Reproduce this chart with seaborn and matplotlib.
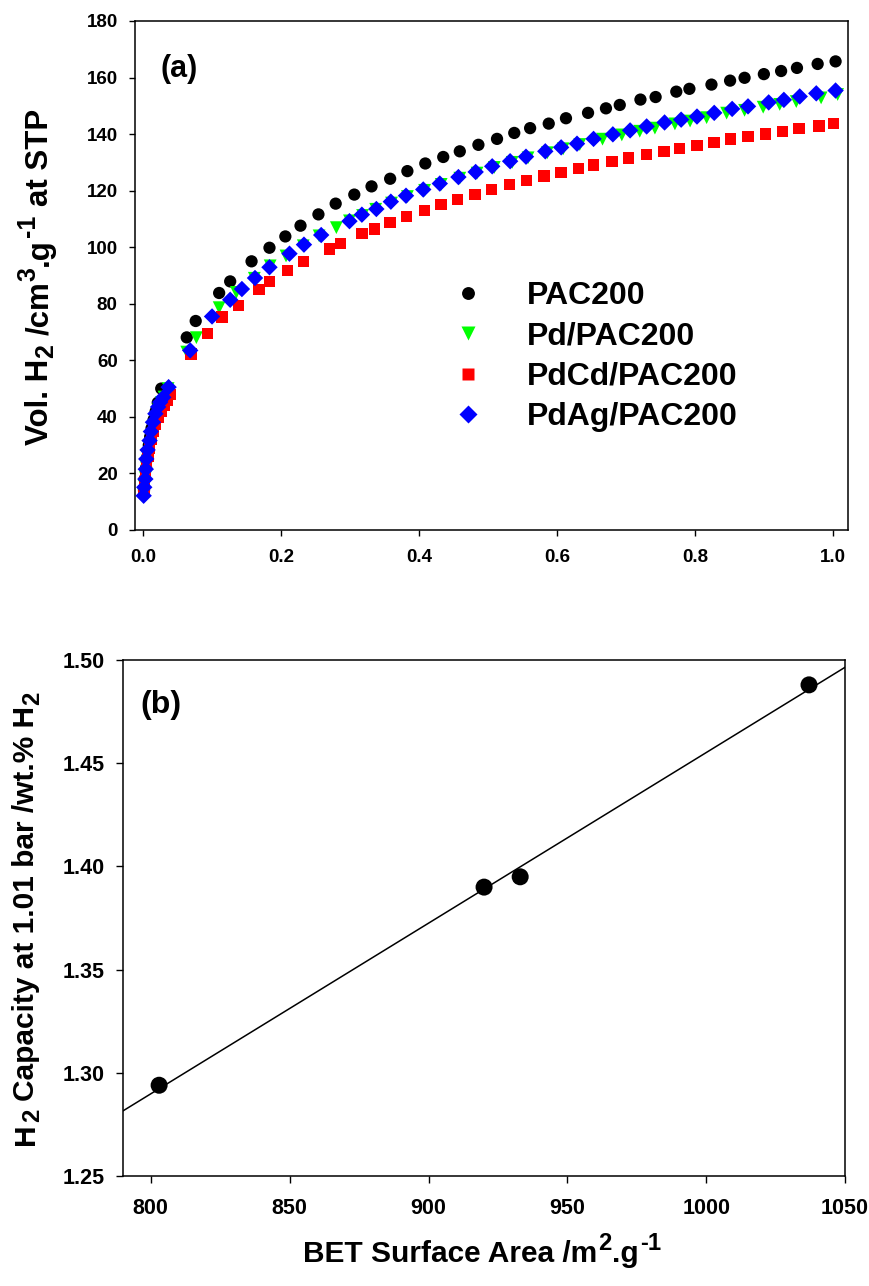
import numpy as np
import pandas as pd
import matplotlib
matplotlib.use("Agg")
import matplotlib.pyplot as plt
import seaborn as sns
from matplotlib.lines import Line2D
from matplotlib.transforms import IdentityTransform

# ---------------- Panel (a): H2 isotherms ----------------
pac_p = [0.001, 0.002, 0.004, 0.006, 0.008, 0.010, 0.012, 0.015, 0.018, 0.021, 0.026,
         0.063, 0.076, 0.110, 0.126, 0.157, 0.183, 0.206, 0.228, 0.254, 0.279, 0.306,
         0.331, 0.358, 0.383, 0.409, 0.435, 0.459, 0.486, 0.513, 0.538, 0.561, 0.588,
         0.613, 0.645, 0.671, 0.691, 0.721, 0.743, 0.773, 0.792, 0.824, 0.851, 0.872,
         0.900, 0.925, 0.948, 0.978, 1.004]
pac_v = [14, 18, 22, 26, 30, 33, 36, 39, 42, 45, 50,
         68.1, 73.9, 83.8, 87.9, 95.0, 99.8, 103.8, 107.6, 111.6, 115.4, 118.6,
         121.5, 124.2, 126.9, 129.6, 131.9, 133.9, 136.2, 138.3, 140.4, 142.1, 143.7,
         145.6, 147.5, 149.1, 150.3, 152.2, 153.1, 155.0, 156.0, 157.5, 158.9, 159.9,
         161.2, 162.3, 163.4, 164.8, 165.7]

pd_p = [0.0006, 0.0015, 0.003, 0.0045, 0.0065, 0.009, 0.0115, 0.0145, 0.018, 0.022,
        0.026, 0.030, 0.036, 0.063, 0.077, 0.110, 0.135, 0.161, 0.184, 0.207, 0.232,
        0.255, 0.280, 0.299, 0.318, 0.337, 0.360, 0.383, 0.408, 0.432, 0.459, 0.484,
        0.509, 0.535, 0.558, 0.586, 0.609, 0.633, 0.666, 0.694, 0.720, 0.742, 0.771,
        0.793, 0.817, 0.846, 0.872, 0.899, 0.923, 0.947, 0.983, 1.007]
pd_v = [12.5, 15.5, 18.5, 22, 25.5, 29, 32.5, 36, 39.5, 42.5,
        45, 47, 50, 62.9, 68.0, 78.6, 84.0, 89.0, 93.4, 96.9, 100.5,
        104.0, 106.9, 109.3, 111.2, 113.4, 115.6, 117.9, 120.1, 122.2, 124.4, 126.2,
        128.2, 130.0, 131.6, 133.4, 134.8, 136.3, 138.2, 139.7, 141.0, 142.1, 143.6,
        144.6, 145.8, 147.4, 148.4, 149.5, 150.5, 151.5, 152.8, 154.0]

pdcd_p = [0.001, 0.002, 0.003, 0.005, 0.007, 0.009, 0.012, 0.015, 0.018, 0.022, 0.026,
          0.030, 0.035, 0.039, 0.069, 0.093, 0.114, 0.138, 0.168, 0.183, 0.209, 0.232,
          0.270, 0.286, 0.317, 0.335, 0.358, 0.382, 0.408, 0.432, 0.456, 0.481, 0.505,
          0.531, 0.556, 0.581, 0.606, 0.631, 0.653, 0.680, 0.704, 0.730, 0.755, 0.778,
          0.803, 0.828, 0.852, 0.877, 0.902, 0.927, 0.951, 0.980, 1.001]
pdcd_v = [14, 17, 20, 23, 26, 29, 32, 35, 37.5, 40, 42,
          44, 46, 48, 62.3, 69.4, 75.3, 79.4, 85.0, 87.8, 91.8, 94.9,
          99.3, 101.3, 104.8, 106.5, 108.8, 110.9, 112.9, 115.0, 116.8, 118.7, 120.4,
          122.1, 123.5, 125.1, 126.5, 127.9, 129.1, 130.3, 131.5, 132.7, 133.8, 134.9,
          136.0, 137.1, 138.2, 139.2, 140.0, 141.0, 141.9, 142.9, 143.7]

pdag_p = [0.0005, 0.0014, 0.003, 0.0036, 0.0043, 0.0062, 0.0091, 0.011, 0.014, 0.0175,
          0.0215, 0.0245, 0.029, 0.0367, 0.068, 0.0997, 0.126, 0.143, 0.162, 0.183,
          0.212, 0.233, 0.258, 0.299, 0.317, 0.338, 0.359, 0.381, 0.406, 0.430, 0.457,
          0.482, 0.506, 0.532, 0.555, 0.583, 0.606, 0.629, 0.653, 0.681, 0.706, 0.730,
          0.756, 0.780, 0.803, 0.828, 0.854, 0.877, 0.907, 0.929, 0.952, 0.976, 1.004]
pdag_v = [12.1, 15.1, 18.0, 21.5, 25.1, 28.3, 31.6, 34.8, 38.1, 41.1,
          43.5, 45.2, 46.9, 50.5, 63.5, 75.5, 81.4, 85.2, 89.1, 92.9,
          97.7, 100.9, 104.3, 109.2, 111.5, 113.5, 116.1, 118.2, 120.4, 122.5, 124.8,
          126.6, 128.6, 130.4, 132.0, 133.9, 135.3, 136.6, 138.3, 139.9, 141.3, 142.7,
          144.1, 145.1, 146.2, 147.5, 148.9, 149.8, 151.2, 152.1, 153.3, 154.4, 155.4]

series_names = ["PAC200", "Pd/PAC200", "PdCd/PAC200", "PdAg/PAC200"]
series_p = [pac_p, pd_p, pdcd_p, pdag_p]
series_v = [pac_v, pd_v, pdcd_v, pdag_v]

# ---------------- Panel (b): capacity vs BET ----------------
bet_area = [803, 920, 933, 1037]
h2_capacity = [1.294, 1.390, 1.395, 1.488]

# ---------------- style ----------------
sns.set_style("ticks")
plt.rcParams["font.family"] = ["Liberation Sans", "DejaVu Sans"]
plt.rcParams["font.weight"] = "bold"
plt.rcParams["text.color"] = "black"
plt.rcParams["axes.labelcolor"] = "black"
plt.rcParams["axes.edgecolor"] = "black"
plt.rcParams["axes.linewidth"] = 1.1
plt.rcParams["xtick.color"] = "black"
plt.rcParams["ytick.color"] = "black"
plt.rcParams["xtick.labelcolor"] = "black"
plt.rcParams["ytick.labelcolor"] = "black"

PX = 100.0 / 72.0


def rich_label(fig, pieces, base, center, size, vertical, sscale=0.8):
    """Draw a label made of normal / superscript / subscript pieces, in pixels."""
    r = fig.canvas.get_renderer()
    items = []
    total = 0.0
    for text, kind, gap in pieces:
        fs = size if kind == "n" else size * sscale
        t = fig.text(0, 0, text, fontsize=fs, fontweight="bold", color="black",
                     rotation=90 if vertical else 0, rotation_mode="anchor",
                     ha="left", va="baseline", transform=IdentityTransform())
        bb = t.get_window_extent(r)
        ln = bb.height if vertical else bb.width
        g = gap * size * PX
        items.append((t, kind, g, ln))
        total += g + ln
    pos = center - total / 2.0
    for t, kind, g, ln in items:
        pos += g
        off = {"n": 0.0, "sup": 0.40 * size * PX, "sub": -0.17 * size * PX}[kind]
        if vertical:
            t.set_position((base - off, pos))
        else:
            t.set_position((pos, base + off))
        pos += ln


colors = {"PAC200": "#000000", "Pd/PAC200": "#00ff00",
          "PdCd/PAC200": "#ff0000", "PdAg/PAC200": "#0000ff"}
markers = {"PAC200": "o", "Pd/PAC200": "v", "PdCd/PAC200": "s", "PdAg/PAC200": "D"}
sizes = {"PAC200": 78, "Pd/PAC200": 85, "PdCd/PAC200": 68, "PdAg/PAC200": 70}

fig = plt.figure(figsize=(8.7, 12.86), dpi=100)
ax1 = fig.add_axes([0.1552, 0.5879, 0.8195, 0.3958])
ax2 = fig.add_axes([0.1414, 0.0855, 0.8300, 0.4012])

frames = []
for name, p, v in zip(series_names, series_p, series_v):
    frames.append(pd.DataFrame({"P": p, "V": v, "Sample": name}))
df = pd.concat(frames, ignore_index=True)

for name in series_names:
    sub = df[df["Sample"] == name]
    sns.scatterplot(data=sub, x="P", y="V", color=colors[name], marker=markers[name],
                    s=sizes[name], edgecolor="none", linewidth=0, alpha=1, ax=ax1,
                    legend=False, zorder=3)

ax1.set_xlim(-0.012, 1.022)
ax1.set_ylim(0, 180)
ax1.set_xticks([0.0, 0.2, 0.4, 0.6, 0.8, 1.0])
ax1.set_xticklabels(["0.0", "0.2", "0.4", "0.6", "0.8", "1.0"])
ax1.set_yticks(np.arange(0, 181, 20))
ax1.tick_params(axis="both", direction="out", length=4.5, width=1.0, labelsize=13.5)
ax1.tick_params(axis="x", pad=9)
ax1.tick_params(axis="y", pad=8)
ax1.set_xlabel("")
ax1.set_ylabel("")
ax1.text(0.036, 0.906, "(a)", transform=ax1.transAxes, fontsize=22,
         fontweight="bold", ha="left", va="center")

handles = [Line2D([0], [0], linestyle="none", marker=markers[n], color=colors[n],
                  markeredgecolor="none", markersize=np.sqrt(sizes[n]) * 1.05)
           for n in series_names]
leg = ax1.legend(handles, series_names, loc="upper left", bbox_to_anchor=(0.400, 0.521),
                 frameon=False, prop={"size": 23, "weight": "bold"},
                 handletextpad=0.84, labelspacing=0.33, borderpad=0, handlelength=2.0)

# panel b
ax2.set_xlim(790, 1050)
ax2.set_ylim(1.25, 1.50)
sns.regplot(x=bet_area, y=h2_capacity, ci=None, truncate=False, ax=ax2,
            scatter_kws=dict(s=150, color="black", edgecolor="none", alpha=1, zorder=4),
            line_kws=dict(color="black", lw=1.1, zorder=3))
ax2.set_xlim(790, 1050)
ax2.set_ylim(1.25, 1.50)
ax2.set_xticks([800, 850, 900, 950, 1000, 1050])
ax2.set_yticks([1.25, 1.30, 1.35, 1.40, 1.45, 1.50])
ax2.set_yticklabels(["1.25", "1.30", "1.35", "1.40", "1.45", "1.50"])
ax2.tick_params(axis="both", direction="out", length=5, width=1.0, labelsize=15.5)
ax2.tick_params(axis="x", pad=11)
ax2.tick_params(axis="y", pad=8)
ax2.set_xlabel("")
ax2.set_ylabel("")
ax2.text(0.0235, 0.913, "(b)", transform=ax2.transAxes, fontsize=23,
         fontweight="bold", ha="left", va="center")

for ax in (ax1, ax2):
    for sp in ax.spines.values():
        sp.set_visible(True)
        sp.set_color("black")
        sp.set_linewidth(1.1)

H = 1286
rich_label(fig, [("Vol. H", "n", 0), ("2", "sub", 0.03), ("/cm", "n", 0.28),
                 ("3", "sup", 0.03), (".g", "n", 0.03), ("-1", "sup", 0.03),
                 ("at STP", "n", 0.28)],
           base=48, center=H - 277, size=22.5, vertical=True)
rich_label(fig, [("H", "n", 0), ("2", "sub", 0.03),
                 ("Capacity at 1.01 bar /wt.% H", "n", 0.28), ("2", "sub", 0.03)],
           base=34, center=H - 918, size=21.5, vertical=True)
rich_label(fig, [("BET Surface Area /m", "n", 0), ("2", "sup", 0.03),
                 (".g", "n", 0.03), ("-1", "sup", 0.03)],
           base=H - 1262, center=482, size=21.5, vertical=False)

fig.savefig("out.png", dpi=100, facecolor="white")
